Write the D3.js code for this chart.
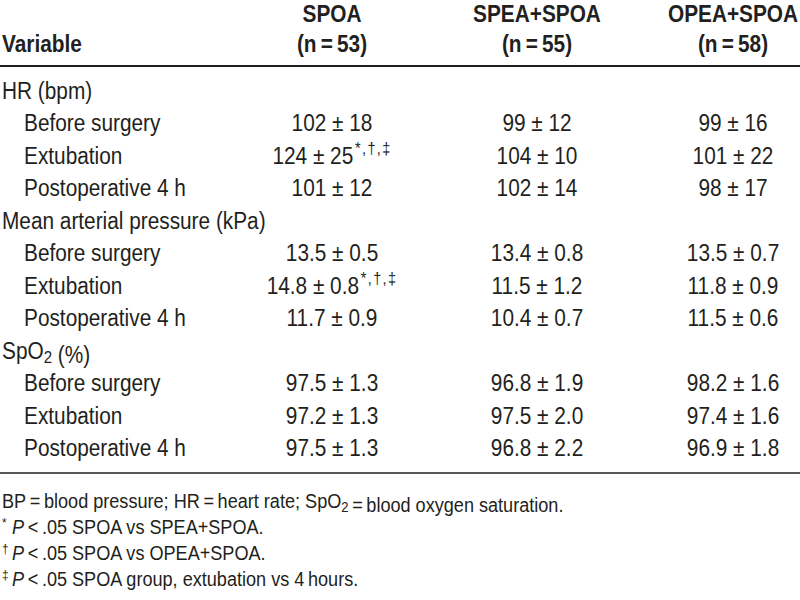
<!DOCTYPE html>
<html><head><meta charset="utf-8">
<script src="https://cdn.jsdelivr.net/npm/d3@7"></script>
<style>
body{margin:0;background:#fff;}
text{font-family:"Liberation Sans",Arial,sans-serif;fill:#231f20;}
</style></head><body>
<svg id="c" width="800" height="600"></svg>
<script>
const columns = ["SPOA", "SPEA+SPOA", "OPEA+SPOA"];
const ns = ["53", "55", "58"];
const groups = ["HR (bpm)", "Mean arterial pressure (kPa)", "SpO2 (%)"];
const subRows = ["Before surgery", "Extubation", "Postoperative 4 h"];
const means = [
  [["102", "99", "99"], ["124", "104", "101"], ["101", "102", "98"]],
  [["13.5", "13.4", "13.5"], ["14.8", "11.5", "11.8"], ["11.7", "10.4", "11.5"]],
  [["97.5", "96.8", "98.2"], ["97.2", "97.5", "97.4"], ["97.5", "96.8", "96.9"]]
];
const sds = [
  [["18", "12", "16"], ["25", "10", "22"], ["12", "14", "17"]],
  [["0.5", "0.8", "0.7"], ["0.8", "1.2", "0.9"], ["0.9", "0.7", "0.6"]],
  [["1.3", "1.9", "1.6"], ["1.3", "2.0", "1.6"], ["1.3", "2.2", "1.8"]]
];
const marks = [
  [["", "", ""], ["*,\u2020,\u2021", "", ""], ["", "", ""]],
  [["", "", ""], ["*,\u2020,\u2021", "", ""], ["", "", ""]],
  [["", "", ""], ["", "", ""], ["", "", ""]]
];
const footnotes = [
  {sym: "", text: "BP\u2009=\u2009blood pressure; HR\u2009=\u2009heart rate; SpO2\u2009=\u2009blood oxygen saturation."},
  {sym: "*", text: "P\u2009<\u2009.05 SPOA vs SPEA+SPOA."},
  {sym: "\u2020", text: "P\u2009<\u2009.05 SPOA vs OPEA+SPOA."},
  {sym: "\u2021", text: "P\u2009<\u2009.05 SPOA group, extubation vs 4\u2009hours."}
];

const svg = d3.select("#c");
const W = 800;
const SX = 0.905;
const x = d3.scaleOrdinal().domain(columns).range([332, 537, 733]);
const rowLabels = [];
groups.forEach((g, gi) => {
  rowLabels.push({type: "g", label: g, gi});
  subRows.forEach((s, si) => rowLabels.push({type: "s", label: s, gi, si}));
});
const y = d3.scalePoint().domain(d3.range(rowLabels.length)).range([99, 456]);
const FS = 23;

function txt(px, py, size, anchor) {
  return svg.append("text")
    .attr("transform", `translate(${px},${py}) scale(${SX},1)`)
    .attr("font-size", size)
    .attr("text-anchor", anchor || "start");
}

function subText(sel, str) {
  const parts = str.split("SpO2");
  parts.forEach((p, i) => {
    if (p) sel.append("tspan").text(p);
    if (i < parts.length - 1) {
      sel.append("tspan").text("SpO");
      sel.append("tspan").attr("dy", 4).attr("font-size", "0.72em").text("2");
      sel.append("tspan").attr("dy", -4).text("");
    }
  });
}

// header
txt(2, 52, FS).attr("font-weight", "bold").text("Variable");
columns.forEach((c, i) => {
  txt(x(c), 22, FS, "middle").attr("font-weight", "bold").text(c);
  txt(x(c), 52, FS, "middle").attr("font-weight", "bold").text("(n\u2009=\u2009" + ns[i] + ")");
});
svg.append("line").attr("x1", 0).attr("x2", W).attr("y1", 66).attr("y2", 66).attr("stroke", "#231f20").attr("stroke-width", 2);
svg.append("line").attr("x1", 0).attr("x2", W).attr("y1", 473).attr("y2", 473).attr("stroke", "#231f20").attr("stroke-width", 1.5);

// body
rowLabels.forEach((r, i) => {
  const t = txt(r.type === "g" ? 2 : 24, y(i), FS);
  subText(t, r.label);
  if (r.type === "s") {
    columns.forEach((c, ci) => {
      const v = means[r.gi][r.si][ci] + " \u00b1 " + sds[r.gi][r.si][ci];
      const tv = txt(x(c), y(i), FS, "middle");
      tv.append("tspan").text(v);
      const m = marks[r.gi][r.si][ci];
      if (m) {
        tv.append("tspan").attr("dy", -10).attr("font-size", 16)
          .attr("letter-spacing", 1.5).attr("dx", 2).text(m);
      }
    });
  }
});

// footnotes
const fy = d3.scaleLinear().domain([0, 3]).range([508, 586]);
footnotes.forEach((f, i) => {
  if (f.sym) txt(2, fy(i) - 7, 13).text(f.sym);
  const t = txt(f.sym ? 12 : 2, fy(i), 20);
  if (f.sym) {
    t.append("tspan").attr("font-style", "italic").text("P");
    t.append("tspan").text(f.text.slice(1));
  } else subText(t, f.text);
});
</script></body></html>
